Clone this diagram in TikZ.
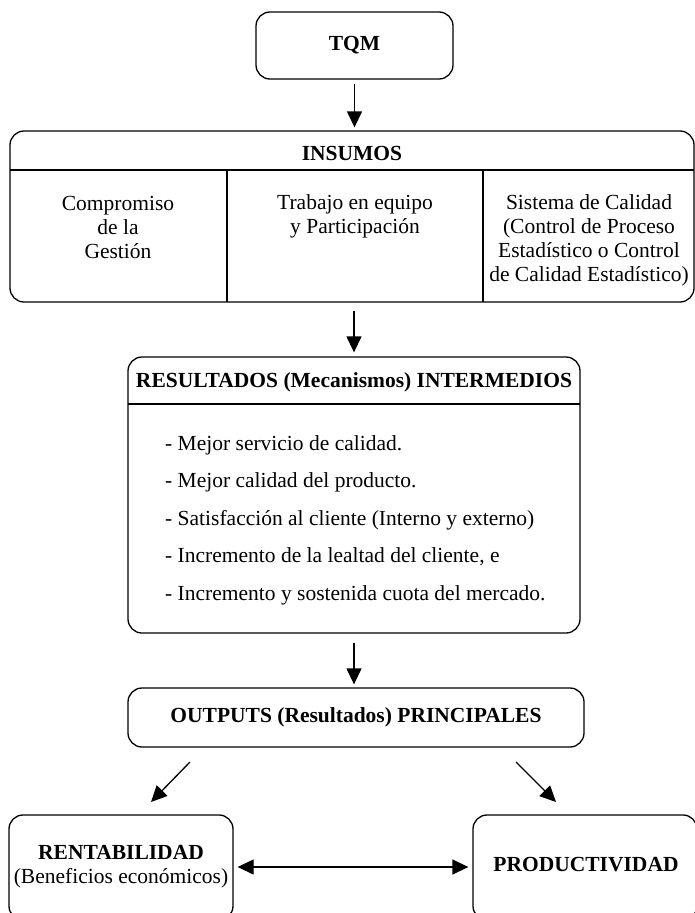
\documentclass[tikz,border=0pt]{standalone}
\usepackage{fontspec}
\setmainfont{Liberation Serif}
\usetikzlibrary{arrows.meta,calc}
\begin{document}
\begin{tikzpicture}[x=1pt,y=-1pt,
  box/.style={draw, line width=1.3pt, rounded corners=14pt, inner sep=0pt},
  txt/.style={inner sep=0pt, align=center, font=\fontsize{21.5}{24}\selectfont},
  btxt/.style={inner sep=0pt, align=center, font=\fontsize{21.5}{24}\selectfont\bfseries},
  arr/.style={line width=1.3pt, -{Triangle[length=16pt,width=15pt]}},
  darr/.style={line width=1.3pt, {Triangle[length=16pt,width=15pt]}-{Triangle[length=16pt,width=15pt]}},
  sep/.style={line width=1.3pt}]
\useasboundingbox (0,0) rectangle (695,913);
\clip (0,0) rectangle (695,913);

% TQM
\node[box, btxt, minimum width=197pt, minimum height=67pt] (tqm) at (354.5,45.5) {TQM};

% INSUMOS
\node[box, minimum width=684pt, minimum height=171pt] (ins) at (352,216.5) {};
\node[btxt] (insh) at (352,153) {INSUMOS};
\draw[sep] (10,170) -- (694,170);
\draw[sep] (227,170) -- (227,302);
\draw[sep] (483,170) -- (483,302);
\node[txt] (c1) at (118,227.5) {Compromiso\\de la\\Gestión};
\node[txt] (c2) at (355,216) {Trabajo en equipo\\y Participación};
\node[txt] (c3) at (589,240.5) {Sistema de Calidad\\(Control de Proceso\\Estadístico o Control\\de Calidad Estadístico)};

% RESULTADOS
\node[box, minimum width=452pt, minimum height=276pt] (res) at (354,495) {};
\node[btxt] (resh) at (354,382) {RESULTADOS (Mecanismos) INTERMEDIOS};
\draw[sep] (128,404) -- (580,404);
\node[inner sep=0pt, align=left, anchor=west, font=\fontsize{21.5}{37.5}\selectfont] (items) at (165,520)
  {- Mejor servicio de calidad.\\- Mejor calidad del producto.\\- Satisfacción al cliente (Interno y externo)\\- Incremento de la lealtad del cliente, e\\- Incremento y sostenida cuota del mercado.};

% OUTPUTS
\node[box, btxt, minimum width=456pt, minimum height=59pt] (out) at (356,717.5) {OUTPUTS (Resultados) PRINCIPALES};

% Bottom boxes
\node[box, minimum width=224pt, minimum height=105pt] (rent) at (121,867.5) {};
\node[txt] (rentt) at (121,867) {\bfseries RENTABILIDAD\\(Beneficios económicos)};
\node[box, minimum width=224pt, minimum height=105pt] (prod) at (585,867.5) {};
\node[btxt] (prodt) at (586,865) {PRODUCTIVIDAD};

% Connectors
\draw[arr, shorten <=4pt, shorten >=3pt] (tqm.south) -- (tqm.south |- ins.north);
\draw[arr, shorten <=8pt, shorten >=4pt] (res.north |- ins.south) -- (res.north);
\draw[arr, shorten <=9pt, shorten >=3pt] (res.south) -- (res.south |- out.north);
\coordinate (dl1) at (190,762);
\coordinate (dl2) at (151,802);
\coordinate (dr1) at (516,762);
\coordinate (dr2) at (556,802);
\draw[arr] (dl1) -- (dl2);
\draw[arr] (dr1) -- (dr2);
\draw[darr, shorten <=4pt, shorten >=4pt] (rent.east |- 0,867) -- (prod.west |- 0,867);
\end{tikzpicture}
\end{document}
